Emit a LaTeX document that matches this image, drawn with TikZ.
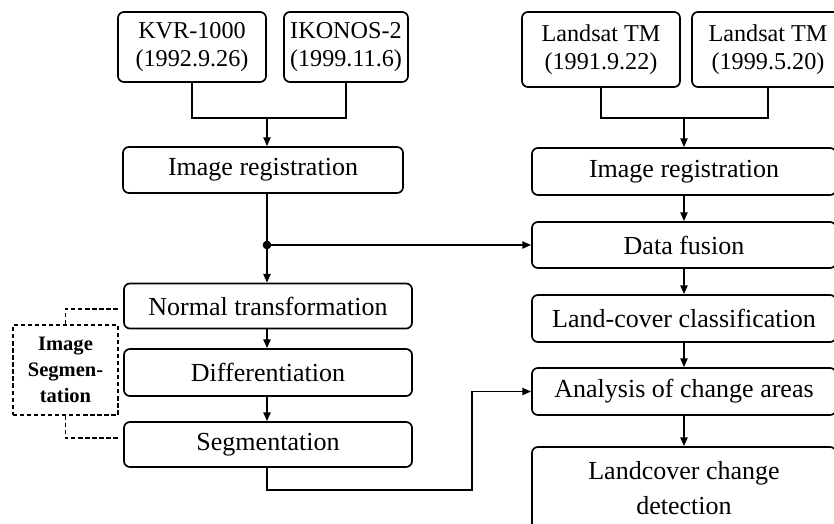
\documentclass[tikz,border=0pt]{standalone}
\usepackage{fontspec}
\setmainfont{Liberation Serif}
\usetikzlibrary{arrows.meta}

\tikzset{
  stepbox/.style={draw, line width=1.2pt, rounded corners=0.15cm, align=center,
    inner sep=0pt, font=\fontsize{18.5}{19.9}\selectfont},
  sourcebox/.style={stepbox, font=\fontsize{17.2}{19.9}\selectfont},
  link/.style={line width=1.2pt},
  flow/.style={line width=1.2pt, -{Triangle[length=0.22cm,width=0.18cm]}},
  groupbox/.style={draw, dashed, dash pattern=on 3pt off 2pt, line width=0.9pt,
    align=center, inner sep=0pt, font=\bfseries\fontsize{14.6}{18.5}\selectfont},
}

\begin{document}
\begin{tikzpicture}[x=0.025cm,y=-0.025cm]
   \useasboundingbox (0,0) rectangle (834,524);
   \clip (0,0) rectangle (834,524);

   % high resolution branch
   \node[sourcebox, minimum width=3.7cm, minimum height=1.75cm] (kvr) at (192,47) {KVR-1000\\(1992.9.26)};
   \node[sourcebox, minimum width=3.1cm, minimum height=1.75cm] (ikonos) at (346,47) {IKONOS-2\\(1999.11.6)};
   \node[stepbox, minimum width=7cm, minimum height=1.15cm] (regL) at (263,170) {Image registration};
   \node[stepbox, minimum width=7.2cm, minimum height=1.125cm] (normal) at (268,306) {Normal transformation};
   \node[stepbox, minimum width=7.2cm, minimum height=1.175cm] (diff) at (268,372.5) {Differentiation};
   \node[stepbox, minimum width=7.2cm, minimum height=1.125cm] (seg) at (268,444.5) {Segmentation};
   \node[groupbox, minimum width=2.625cm, minimum height=2.25cm] (seglabel) at (65.5,370) {Image\\Segmen-\\tation};

   % landsat branch
   \node[sourcebox, minimum width=3.95cm, minimum height=1.875cm] (tmA) at (601,49.5) {Landsat TM\\(1991.9.22)};
   \node[sourcebox, minimum width=3.8cm, minimum height=1.875cm] (tmB) at (768,49.5) {Landsat TM\\(1999.5.20)};
   \node[stepbox, minimum width=7.6cm, minimum height=1.175cm] (regR) at (684,171.5) {Image registration};
   \node[stepbox, minimum width=7.6cm, minimum height=1.15cm] (fusion) at (684,245) {Data fusion};
   \node[stepbox, minimum width=7.6cm, minimum height=1.175cm] (landcov) at (684,318.5) {Land-cover classification};
   \node[stepbox, minimum width=7.6cm, minimum height=1.175cm] (analysis) at (684,391.5) {Analysis of change areas};
   \node[stepbox, minimum width=7.6cm, minimum height=2.05cm] (detect) at (684,488) {Landcover change\\[5pt]detection};

   \coordinate (jl) at (267,118);
   \coordinate (jr) at (684,118);
   \coordinate (dot) at (267,245);
   \coordinate (bend) at (472,490);
   \coordinate (dtop) at (118,309);
   \coordinate (dbot) at (118,438);

   \draw[link] (kvr) |- (jl) -| (ikonos);
   \draw[flow] (jl) -- (jl |- regL.north);
   \draw[flow] (regL.south -| dot) -- (dot) -- (normal.north -| dot);
   \filldraw (dot) circle (0.1cm);
   \draw[flow] (dot) -- (fusion.west);
   \draw[flow] (normal.south -| dot) -- (diff.north -| dot);
   \draw[flow] (diff.south -| dot) -- (seg.north -| dot);
   \draw[flow] (seg.south -| dot) |- (bend) |- (analysis.west);

   \draw[dashed, dash pattern=on 3pt off 2pt, line width=0.9pt] (seglabel.north) |- (dtop);
   \draw[dashed, dash pattern=on 3pt off 2pt, line width=0.9pt] (seglabel.south) |- (dbot);

   \draw[link] (tmA) |- (jr) -| (tmB);
   \draw[flow] (jr) -- (regR);
   \draw[flow] (regR) -- (fusion);
   \draw[flow] (fusion) -- (landcov);
   \draw[flow] (landcov) -- (analysis);
   \draw[flow] (analysis) -- (detect);
\end{tikzpicture}
\end{document}
